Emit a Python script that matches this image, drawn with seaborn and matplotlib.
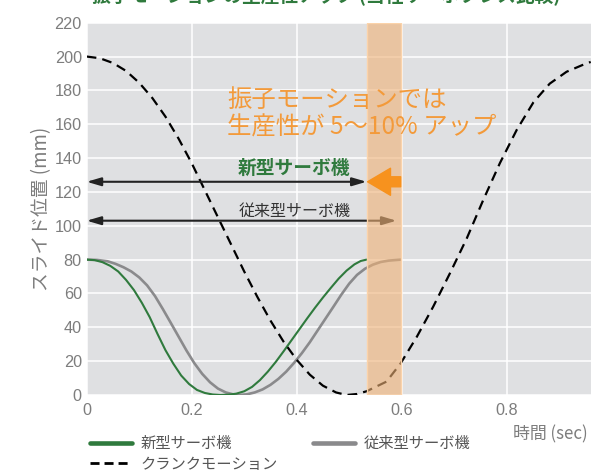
import matplotlib
matplotlib.use("Agg")
import matplotlib.pyplot as plt
from matplotlib import font_manager
from matplotlib.lines import Line2D
import seaborn as sns

# Slide position over time (sec -> mm)
new_t = [0.000, 0.015, 0.030, 0.045, 0.060, 0.075, 0.090, 0.105, 0.120, 0.135,
         0.150, 0.165, 0.180, 0.195, 0.210, 0.225, 0.240, 0.255, 0.270, 0.285,
         0.300, 0.315, 0.330, 0.345, 0.360, 0.375, 0.390, 0.405, 0.420, 0.435,
         0.450, 0.465, 0.480, 0.495, 0.510, 0.522, 0.533]
new_pos = [80, 79.7, 78.5, 76.3, 73, 68, 62, 54.5, 46, 36,
           26.5, 18.5, 11.5, 6.5, 3, 1.2, 0.3, 0, 0.2, 0.8,
           2.2, 4.8, 8.8, 13.8, 19.5, 25.8, 32.3, 38.8, 45.3, 51.6,
           57.6, 63.3, 68.8, 73.5, 77.2, 79.2, 80]

old_t = [0.000, 0.020, 0.040, 0.055, 0.070, 0.085, 0.100, 0.115, 0.130, 0.145,
         0.160, 0.175, 0.190, 0.205, 0.220, 0.235, 0.250, 0.265, 0.280, 0.290,
         0.305, 0.320, 0.335, 0.350, 0.365, 0.380, 0.395, 0.410, 0.425, 0.440,
         0.455, 0.470, 0.485, 0.500, 0.515, 0.530, 0.545, 0.560, 0.575, 0.598]
old_pos = [80, 79.8, 79, 77.5, 75.5, 73, 69.5, 64.8, 58.5, 50.8,
           42.7, 34.5, 26.3, 18.8, 12.5, 7.5, 3.8, 1.5, 0.3, 0,
           0.4, 1.5, 3.3, 6, 9.5, 13.8, 19, 24.8, 31.2, 38.2,
           45.2, 52.2, 59.3, 65.8, 71, 74.6, 77, 78.6, 79.4, 80]

crank_t = [0.000, 0.025, 0.050, 0.075, 0.100, 0.125, 0.150, 0.175, 0.200, 0.225,
           0.250, 0.275, 0.300, 0.325, 0.350, 0.375, 0.400, 0.425, 0.450, 0.475,
           0.495, 0.515, 0.533, 0.571, 0.598, 0.629, 0.660, 0.692, 0.724, 0.755,
           0.787, 0.819, 0.851, 0.882, 0.914, 0.952, 0.960]
crank_pos = [200, 199, 196.2, 191.5, 184.5, 175.5, 164.5, 151.5, 137, 121,
             105, 89, 73, 58, 44, 31.5, 20.8, 12, 5.5, 1.5,
             0, 0.6, 2.2, 7.9, 18.7, 34.5, 52.2, 72, 92.6, 115,
             137, 156.6, 173, 184, 191, 196, 196.8]

x_ticks = [0, 0.2, 0.4, 0.6, 0.8]
x_tick_labels = ["0", "0.2", "0.4", "0.6", "0.8"]
y_ticks = list(range(0, 221, 20))

new_cycle_end = 0.533
old_cycle_end = 0.598
new_arrow_y = 126
old_arrow_y = 103

GREEN = "#2F7A3D"
GRAY = "#8A8A8C"
ORANGE = "#F39A3A"
ARROW_ORANGE = "#F7921E"
LABEL_GRAY = "#7D7D7D"

sns.set_theme(style="darkgrid", rc={
    "axes.facecolor": "#DFE0E2",
    "grid.color": "white",
    "grid.linewidth": 1.1,
    "lines.scale_dashes": False,
})
plt.rcParams["font.family"] = ["Noto Sans CJK JP", "DejaVu Sans"]

names = {f.name for f in font_manager.fontManager.ttflist}
tick_family = "Liberation Sans Narrow" if "Liberation Sans Narrow" in names else "Liberation Sans"

fig = plt.figure(figsize=(5.91, 4.73), dpi=100)
W, H = 591, 473
ax = fig.add_axes([86.7 / W, 1 - 395 / H, (W - 86.7) / W, (395 - 22.7) / H])

sns.lineplot(x=new_t, y=new_pos, ax=ax, color=GREEN, linewidth=1.5, sort=False, zorder=3)
sns.lineplot(x=old_t, y=old_pos, ax=ax, color=GRAY, linewidth=1.9, sort=False, zorder=2)
sns.lineplot(x=crank_t, y=crank_pos, ax=ax, color="black", linewidth=1.6, sort=False, zorder=4)
ax.lines[-1].set_dashes([7.0, 4.4])
if ax.get_legend() is not None:
    ax.get_legend().remove()

ax.set_xlim(0, (W - 86.7) / 525)
ax.set_ylim(0, 220)
ax.set_xticks(x_ticks)
ax.set_xticklabels(x_tick_labels)
ax.set_yticks(y_ticks)
ax.tick_params(length=0, labelsize=11.7, labelcolor=LABEL_GRAY)
ax.tick_params(axis="y", pad=3.5)
ax.tick_params(axis="x", pad=6.0)
for lab in ax.get_xticklabels() + ax.get_yticklabels():
    lab.set_family(tick_family)
ax.set_xlabel("")
ax.set_ylabel("スライド位置 (mm)", fontsize=13.5, color=LABEL_GRAY, labelpad=1.5)
for s in ax.spines.values():
    s.set_visible(False)

# cycle-time arrows
ax.annotate("", xy=(0, new_arrow_y), xytext=(new_cycle_end, new_arrow_y),
            arrowprops=dict(arrowstyle="<|-|>,head_length=0.85,head_width=0.25",
                            color="#222222", lw=1.5, shrinkA=0, shrinkB=0,
                            mutation_scale=10), zorder=5)
ax.annotate("", xy=(0, old_arrow_y), xytext=(0.590, old_arrow_y),
            arrowprops=dict(arrowstyle="<|-|>,head_length=0.85,head_width=0.25",
                            color="#222222", lw=1.5, shrinkA=0, shrinkB=0,
                            mutation_scale=10), zorder=5)

# gain band between the two cycle ends
ax.axvspan(new_cycle_end, old_cycle_end, facecolor=(0.941, 0.698, 0.463, 0.6),
           edgecolor="#FBD3AA", linewidth=1.0, zorder=6)

ax.annotate("", xy=(new_cycle_end + 0.002, new_arrow_y), xytext=(old_cycle_end, new_arrow_y),
            arrowprops=dict(arrowstyle="simple,head_length=16.5,head_width=19.5,tail_width=7.2",
                            color=ARROW_ORANGE, shrinkA=0, shrinkB=0, mutation_scale=1),
            zorder=7)

ax.text(0.267, 174.3, "振子モーションでは", color=ORANGE, fontsize=17.6,
        ha="left", va="center", zorder=8)
ax.text(0.267, 157.8, "生産性が 5〜10% アップ", color=ORANGE, fontsize=17.6,
        ha="left", va="center", zorder=8)
ax.text(0.287, 134.0, "新型サーボ機", color=GREEN, fontsize=13.5, fontweight="bold",
        ha="left", va="center", zorder=8)
ax.text(0.289, 108.3, "従来型サーボ機", color="#333333", fontsize=11.5,
        ha="left", va="center", zorder=8)

fig.text(91.7 / W, 1 - 2 / H, "振子モーションの生産性アップ (当社サーボプレス比較)",
         color=GREEN, fontsize=13.5, fontweight="bold", ha="left", va="baseline")
fig.text(513 / W, 1 - 434 / H, "時間 (sec)", color=LABEL_GRAY, fontsize=12.2,
         ha="left", va="center")

handles = [
    Line2D([], [], color=GREEN, lw=3.3),
    Line2D([], [], color="black", lw=2.0, dashes=[6.5, 3.6]),
    Line2D([], [], color=GRAY, lw=3.3),
]
labels = ["新型サーボ機", "クランクモーション", "従来型サーボ機"]
fig.legend(handles, labels, ncol=2, loc="upper left",
           bbox_to_anchor=(90 / W, 1 - 435 / H), frameon=False,
           fontsize=11, labelcolor="#555555", handlelength=2.75,
           handletextpad=0.55, columnspacing=2.33, labelspacing=0.25,
           borderpad=0, borderaxespad=0)

fig.savefig("out.png", dpi=100)
